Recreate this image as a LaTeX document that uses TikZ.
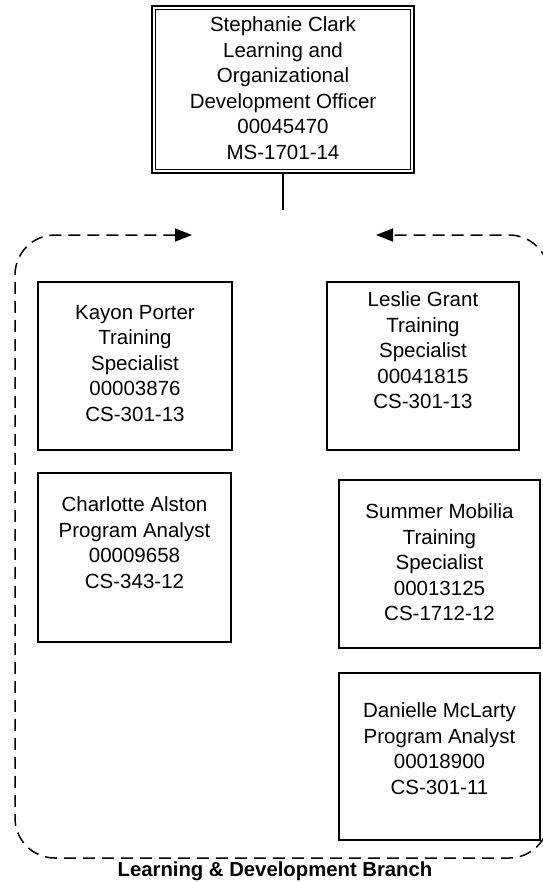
\documentclass[tikz,border=0pt]{standalone}
\usepackage{fontspec}
\setmainfont{Liberation Sans}
\usetikzlibrary{arrows.meta}
\begin{document}
\begin{tikzpicture}[x=1pt,y=-1pt,
  every node/.style={inner sep=0pt, outer sep=0pt},
  txt/.style={anchor=north, align=center, font=\fontsize{20.5}{25.5}\selectfont},
  posbox/.style={draw, line width=1.5pt, anchor=north west},
  branch/.style={dash pattern=on 12pt off 7pt, line width=1.5pt, rounded corners=40pt}
]
\useasboundingbox (0,0) rectangle (542,883);
% top box (double border)
\node[draw, line width=2pt, anchor=north west, minimum width=262pt, minimum height=167pt] (boss) at (152,6) {};
\node[draw, line width=1.3pt, minimum width=255.5pt, minimum height=160.5pt] (bossin) at (boss.center) {};
\node[txt] (bosst) at (283,17) {Stephanie Clark\\Learning and\\Organizational\\Development Officer\\00045470\\MS-1701-14};
\coordinate (drop) at (boss.south |- 0,210);
\draw[line width=1.4pt] (boss.south) -- (drop);
% branch boundary
\coordinate (la) at (192,235);
\coordinate (ra) at (376,235);
\draw[branch, {Triangle[length=17pt,width=13pt]}-{Triangle[length=17pt,width=13pt]}]
  (la) -- (15,235) -- (15,858) -- (549,858) -- (549,235) -- (ra);
% position boxes
\node[posbox, minimum width=194pt, minimum height=168pt] (kp) at (38,282) {};
\node[txt] (kpt) at (kp.center |- 0,305) {Kayon Porter\\Training\\Specialist\\00003876\\CS-301-13};
\node[posbox, minimum width=192pt, minimum height=168pt] (lg) at (327,282) {};
\node[txt] (lgt) at (lg.center |- 0,292) {Leslie Grant\\Training\\Specialist\\00041815\\CS-301-13};
\node[posbox, minimum width=193pt, minimum height=169pt] (ca) at (38,473) {};
\node[txt] (cat) at (ca.center |- 0,497) {Charlotte Alston\\Program Analyst\\00009658\\CS-343-12};
\node[posbox, minimum width=201pt, minimum height=168pt] (sm) at (339,480) {};
\node[txt] (smt) at (sm.center |- 0,504) {Summer Mobilia\\Training\\Specialist\\00013125\\CS-1712-12};
\node[posbox, minimum width=201pt, minimum height=167pt] (dm) at (339,673) {};
\node[txt] (dmt) at (dm.center |- 0,703) {Danielle McLarty\\Program Analyst\\00018900\\CS-301-11};
% branch label
\node[font=\fontsize{20.3}{24}\selectfont\bfseries] (bl) at (275,871) {Learning \& Development Branch};
\end{tikzpicture}
\end{document}
